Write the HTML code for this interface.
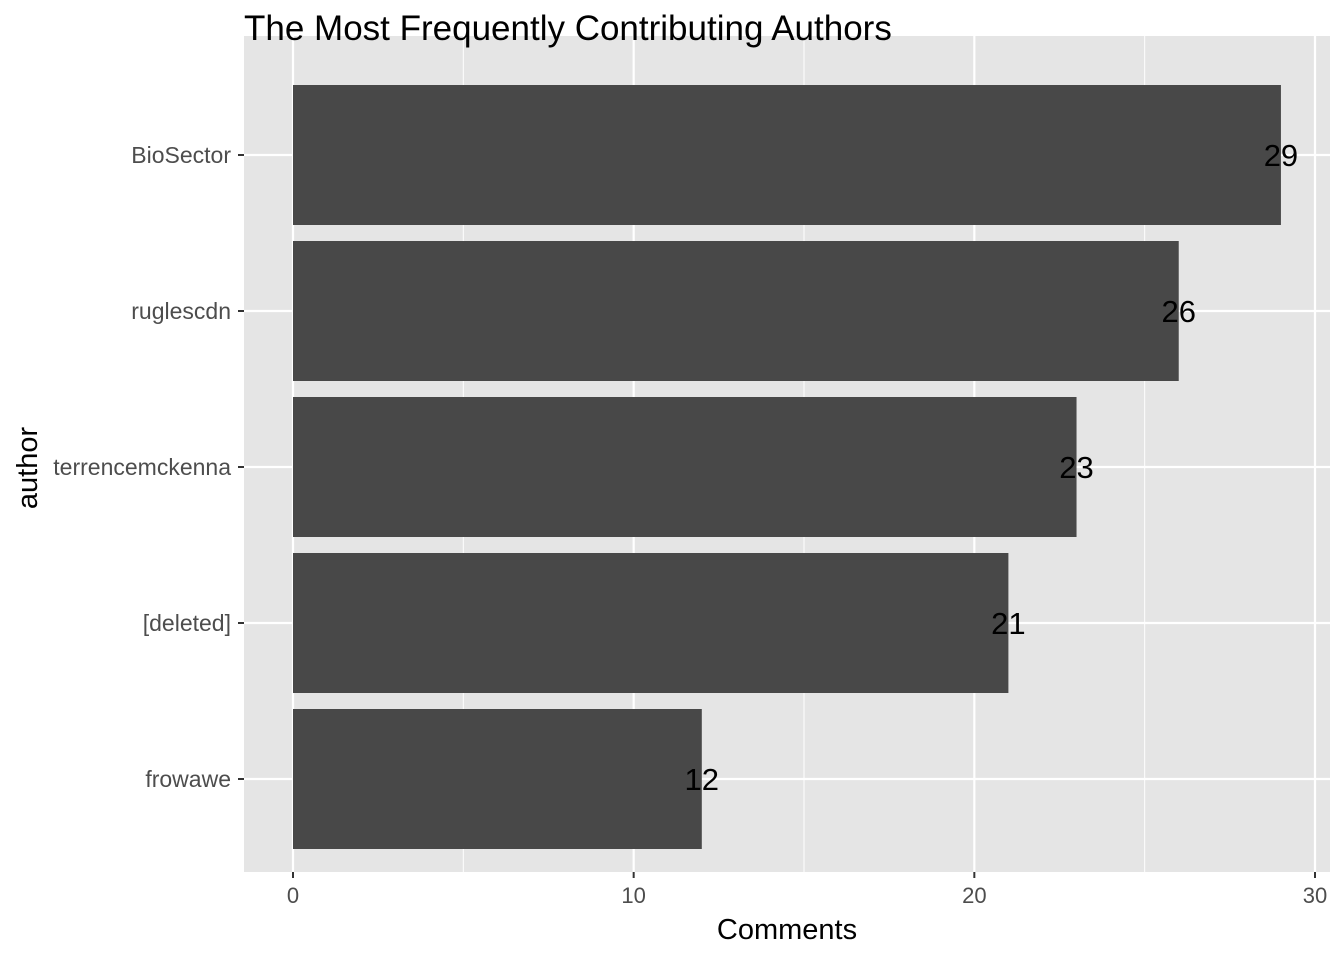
<!DOCTYPE html>
<html><head><meta charset="utf-8"><style>
body{margin:0;background:#fff;}
svg{display:block;font-family:"Liberation Sans",Arial,sans-serif;}
</style></head><body>
<svg id="chart" width="1344" height="960">
<rect x="244" y="36" width="1086" height="836" fill="#e5e5e5"/>
<g id="grid"></g><g id="bars"></g><g id="axes"></g>
<text x="244" y="40" font-size="35" fill="#000">The Most Frequently Contributing Authors</text>
<text x="787" y="939" text-anchor="middle" font-size="29" fill="#000">Comments</text>
<text transform="translate(37,468) rotate(-90)" text-anchor="middle" font-size="29" fill="#000">author</text>
</svg>
<script>
const categories=["BioSector","ruglescdn","terrencemckenna","[deleted]","frowawe"];
const values=[29,26,23,21,12];
const xTicks=[0,10,20,30];
const ns="http://www.w3.org/2000/svg";
const px0=244,px1=1330,py0=36,py1=872;
function xs(v){return 293+v*(1315-293)/30;}
function ys(i){return 155+i*156;}
function mk(t,a,p){const e=document.createElementNS(ns,t);for(const k in a)e.setAttribute(k,a[k]);p.appendChild(e);return e;}
const grid=document.getElementById('grid'),bars=document.getElementById('bars'),axes=document.getElementById('axes');
for(let i=0;i<xTicks.length-1;i++){const m=(xTicks[i]+xTicks[i+1])/2;
 const l=mk('line',{x1:xs(m),x2:xs(m),y1:py0,y2:py1,stroke:'#fff','stroke-width':1},grid);
 
 }
xTicks.forEach(t=>{const l=mk('line',{x1:xs(t),x2:xs(t),y1:py0,y2:py1,stroke:'#fff','stroke-width':2.2},grid);
 
 
 const k=mk('line',{x1:xs(t),x2:xs(t),y1:py1,y2:py1+6,stroke:'#333','stroke-width':2},axes);
 
 
 const tx=mk('text',{x:xs(t),y:py1+31,'text-anchor':'middle','font-size':22,fill:'#4d4d4d'},axes);tx.textContent=t;
 
 });
categories.forEach((c,i)=>{const y=ys(i);
 const g=mk('line',{x1:px0,x2:px1,y1:y,y2:y,stroke:'#fff','stroke-width':2.2},grid);
 
 
 const r=mk('rect',{x:xs(0),y:y-70,width:xs(values[i])-xs(0),height:140,fill:'#484848'},bars);
 
 
 const v=mk('text',{x:xs(values[i]),y:y+11,'text-anchor':'middle','font-size':31,fill:'#000'},bars);v.textContent=values[i];
 
 
 const k=mk('line',{x1:px0-6,x2:px0,y1:y,y2:y,stroke:'#333','stroke-width':2},axes);
 
 
 const tl=mk('text',{x:px0-13,y:y+8,'text-anchor':'end','font-size':23,fill:'#4d4d4d'},axes);tl.textContent=c;
 
 });
</script>
</body></html>
